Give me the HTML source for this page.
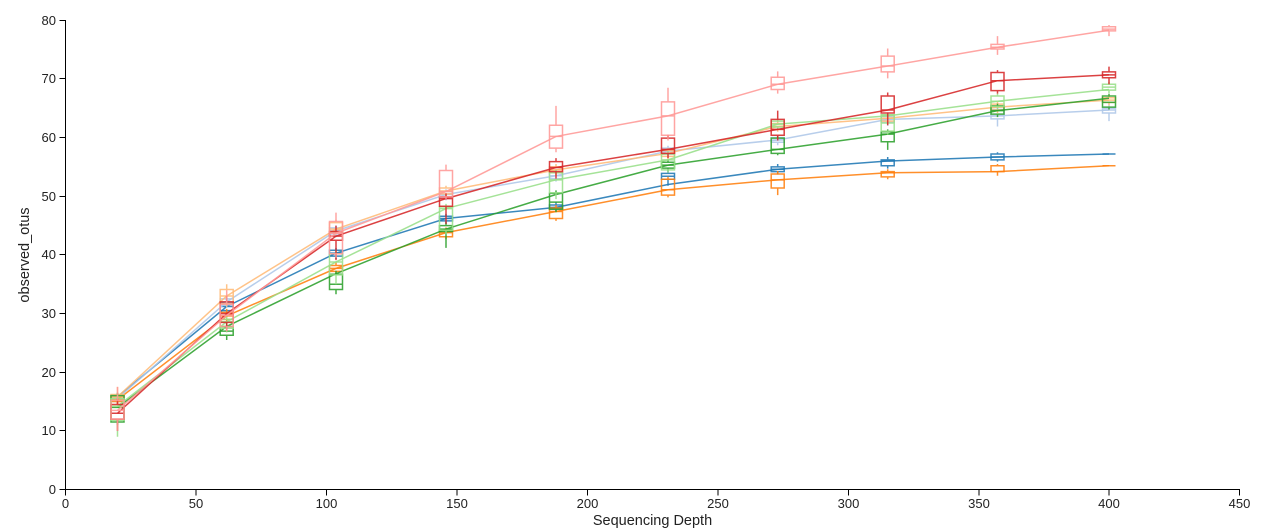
<!DOCTYPE html>
<html>
<head>
<meta charset="utf-8">
<style>
  html,body{margin:0;padding:0;background:#fff;}
  body{width:1280px;height:532px;overflow:hidden;}
  svg{display:block;}
  .s path,.s polyline{vector-effect:non-scaling-stroke;fill:none;stroke-width:1.5;stroke-opacity:0.88;}
  .ax{fill:none;stroke:#000;stroke-width:1;}
  text{font-family:"Liberation Sans","DejaVu Sans",sans-serif;fill:#222;}
  .tk{font-size:13px;}
  .tl{font-size:14.5px;}
</style>
</head>
<body>
<svg width="1280" height="532" viewBox="0 0 1280 532" xmlns="http://www.w3.org/2000/svg">
  <path class="ax" d="M59.5,20.5H65.5V489.5H59.5"/>
  <path class="ax" d="M65.5,495.5V489.5H1239.5V495.5"/>
  <g class="ax">
    <path d="M59.5,430.5H65.5M59.5,372.5H65.5M59.5,313.5H65.5M59.5,254.5H65.5M59.5,196.5H65.5M59.5,137.5H65.5M59.5,78.5H65.5"/>
    <path d="M196,489.5V495.5M326.5,489.5V495.5M457,489.5V495.5M587.5,489.5V495.5M718,489.5V495.5M848.5,489.5V495.5M979,489.5V495.5M1109,489.5V495.5"/>
  </g>
  <g class="tk" text-anchor="end">
    <text x="56" y="494">0</text>
    <text x="56" y="435">10</text>
    <text x="56" y="377">20</text>
    <text x="56" y="318">30</text>
    <text x="56" y="259">40</text>
    <text x="56" y="201">50</text>
    <text x="56" y="142">60</text>
    <text x="56" y="83">70</text>
    <text x="56" y="25">80</text>
  </g>
  <g class="tk" text-anchor="middle">
    <text x="65.5" y="508">0</text>
    <text x="196" y="508">50</text>
    <text x="326.5" y="508">100</text>
    <text x="457" y="508">150</text>
    <text x="587.5" y="508">200</text>
    <text x="718" y="508">250</text>
    <text x="848.5" y="508">300</text>
    <text x="979" y="508">350</text>
    <text x="1109" y="508">400</text>
    <text x="1239.5" y="508">450</text>
  </g>
  <text class="tl" x="652.5" y="525" text-anchor="middle">Sequencing Depth</text>
  <text class="tl" transform="translate(29,255) rotate(-90)" text-anchor="middle">observed_otus</text>

  <g class="s" transform="translate(0,489.5) scale(1,-5.865)">
    <g stroke="#1f77b4">
      <polyline points="117.5,15.8 226.7,31.2 336,40.3 446,46.2 556,48.1 668,52 777.7,54.6 887.7,56 997.5,56.7 1109,57.2"/>
      <path d="M111,15.2h13V16h-13ZM111,15.8h13M117.5,16V16.5M117.5,15.2V14.5
M220.2,30.5h13V31.8h-13ZM220.2,31.2h13M226.7,31.8V32.5M226.7,30.5V30
M329.5,39.8h13V40.8h-13ZM329.5,40.3h13M336,40.8V41.2M336,39.8V39.3
M439.5,45.8h13V46.6h-13ZM439.5,46.2h13M446,46.6V47M446,45.8V45.3
M549.5,47.8h13V48.5h-13ZM549.5,48.1h13M556,48.5V49M556,47.8V47.3
M661.5,52.9h13V53.9h-13ZM661.5,53.4h13M668,53.9V54.3M668,52.9V51.8
M771.2,54.2h13V55h-13ZM771.2,54.6h13M777.7,55V55.5M777.7,54.2V53.7
M881.2,55.2h13V56.2h-13ZM881.2,56h13M887.7,56.2V56.7M887.7,55.2V54.7
M991,56.2h13V57.2h-13ZM991,56.7h13M997.5,57.2V57.5M997.5,56.2V55.9
M1102.5,57.2h13"/>
    </g>
    <g stroke="#aec7e8">
      <polyline points="117.5,15.5 226.7,32 336,44.1 446,50.3 556,53.5 668,57.7 777.7,59.6 887.7,63.1 997.5,63.7 1109,64.7"/>
      <path d="M111,15h13V16h-13ZM111,15.5h13M117.5,16V16.5M117.5,15V14.5
M220.2,31.5h13V32.5h-13ZM220.2,32h13M226.7,32.5V33M226.7,31.5V31
M329.5,43.6h13V44.6h-13ZM329.5,44.1h13M336,44.6V45M336,43.6V43
M439.5,49.8h13V50.8h-13ZM439.5,50.3h13M446,50.8V51.2M446,49.8V49.3
M549.5,53h13V54h-13ZM549.5,53.5h13M556,54V54.5M556,53V52.5
M661.5,57.2h13V58.2h-13ZM661.5,57.7h13M668,58.2V58.6M668,57.2V56.7
M771.2,59.2h13V60h-13ZM771.2,59.6h13M777.7,60V60.5M777.7,59.2V58.7
M881.2,62.6h13V63.6h-13ZM881.2,63.1h13M887.7,63.6V64M887.7,62.6V62
M991,63.2h13V64.8h-13ZM991,63.7h13M997.5,64.8V65.2M997.5,63.2V61.9
M1102.5,64.2h13V65h-13ZM1102.5,64.7h13M1109,65V65.5M1109,64.2V62.8"/>
    </g>
    <g stroke="#ff7f0e">
      <polyline points="117.5,15.3 226.7,29.6 336,37.7 446,43.8 556,47.4 668,51.1 777.7,52.8 887.7,54 997.5,54.2 1109,55.2"/>
      <path d="M111,15h13V15.8h-13ZM111,15.3h13M117.5,15.8V16.2M117.5,15V14.5
M220.2,29h13V30.2h-13ZM220.2,29.6h13M226.7,30.2V30.8M226.7,29V28.5
M329.5,37.2h13V38.2h-13ZM329.5,37.7h13M336,38.2V38.7M336,37.2V36.7
M439.5,43.1h13V44.2h-13ZM439.5,43.8h13M446,44.2V44.7M446,43.1V42.7
M549.5,46.2h13V48h-13ZM549.5,47.4h13M556,48V48.5M556,46.2V45.8
M661.5,50.2h13V52.9h-13ZM661.5,51.1h13M668,52.9V53.3M668,50.2V49.8
M771.2,51.4h13V53.8h-13ZM771.2,52.8h13M777.7,53.8V54.3M777.7,51.4V50.2
M881.2,53.3h13V54.2h-13ZM881.2,54h13M887.7,54.2V54.6M887.7,53.3V52.9
M991,54.2h13V55.2h-13ZM991,54.2h13M997.5,55.2V55.5M997.5,54.2V53.5
M1102.5,55.2h13"/>
    </g>
    <g stroke="#ffbb78">
      <polyline points="117.5,15.8 226.7,33 336,44.4 446,50.9 556,54.5 668,57.3 777.7,61.9 887.7,63.3 997.5,65.2 1109,66.4"/>
      <path d="M111,15.2h13V16.2h-13ZM111,15.8h13M117.5,16.2V17.5M117.5,15.2V14.5
M220.2,31.7h13V34.1h-13ZM220.2,33h13M226.7,34.1V35M226.7,31.7V31.2
M329.5,44h13V45.5h-13ZM329.5,44.4h13M336,45.5V46M336,44V43.5
M439.5,50.4h13V51.4h-13ZM439.5,50.9h13M446,51.4V51.8M446,50.4V50
M549.5,54h13V55h-13ZM549.5,54.5h13M556,55V55.5M556,54V53.5
M661.5,56.8h13V57.8h-13ZM661.5,57.3h13M668,57.8V58.2M668,56.8V56.3
M771.2,61.4h13V62.4h-13ZM771.2,61.9h13M777.7,62.4V62.8M777.7,61.4V61
M881.2,62.8h13V63.8h-13ZM881.2,63.3h13M887.7,63.8V64.2M887.7,62.8V62.3
M991,64.7h13V65.7h-13ZM991,65.2h13M997.5,65.7V66.2M997.5,64.7V64.2
M1102.5,66h13V66.8h-13ZM1102.5,66.4h13M1109,66.8V67.2M1109,66V65.5"/>
    </g>
    <g stroke="#2ca02c">
      <polyline points="117.5,14 226.7,27.8 336,36.8 446,44.4 556,50.3 668,55.3 777.7,58 887.7,60.6 997.5,64.6 1109,66.7"/>
      <path d="M111,11.5h13V16h-13ZM111,14h13M117.5,16V16.5M117.5,11.5V11
M220.2,26.3h13V27.8h-13ZM220.2,27h13M226.7,27.8V28.5M226.7,26.3V25.5
M329.5,34.1h13V36.7h-13ZM329.5,35h13M336,36.7V37.3M336,34.1V33.3
M439.5,44h13V45h-13ZM439.5,44.4h13M446,45V45.5M446,44V41.2
M549.5,47.8h13V50.5h-13ZM549.5,49h13M556,50.5V51M556,47.8V47.3
M661.5,54.8h13V55.8h-13ZM661.5,55.3h13M668,55.8V56.3M668,54.8V54.3
M771.2,57.3h13V59.9h-13ZM771.2,58h13M777.7,59.9V60.3M777.7,57.3V57
M881.2,59.3h13V61h-13ZM881.2,60.6h13M887.7,61V61.4M887.7,59.3V57.9
M991,64h13V65.4h-13ZM991,64.6h13M997.5,65.4V65.8M997.5,64V63.5
M1102.5,65.2h13V67.1h-13ZM1102.5,66h13M1109,67.1V67.5M1109,65.2V64.8"/>
    </g>
    <g stroke="#98df8a">
      <polyline points="117.5,14.2 226.7,28.6 336,38.8 446,47.9 556,52.8 668,56.2 777.7,62.3 887.7,63.7 997.5,66.2 1109,68.2"/>
      <path d="M111,11.8h13V15.5h-13ZM111,14.2h13M117.5,15.5V16M117.5,11.8V9
M220.2,27.5h13V29h-13ZM220.2,28.6h13M226.7,29V29.5M226.7,27.5V26.8
M329.5,36.6h13V40.2h-13ZM329.5,38.8h13M336,40.2V40.7M336,36.6V35
M439.5,44.2h13V48.2h-13ZM439.5,47.9h13M446,48.2V48.7M446,44.2V43.5
M549.5,50.6h13V54h-13ZM549.5,52.8h13M556,54V54.5M556,50.6V49.5
M661.5,54.5h13V57.2h-13ZM661.5,56.2h13M668,57.2V57.7M668,54.5V54
M771.2,61.8h13V62.8h-13ZM771.2,62.3h13M777.7,62.8V63.2M777.7,61.8V61.3
M881.2,61.1h13V63.9h-13ZM881.2,62.5h13M887.7,63.9V64.3M887.7,61.1V60.5
M991,65.3h13V67.1h-13ZM991,66.2h13M997.5,67.1V67.5M997.5,65.3V64.8
M1102.5,68.1h13V69.1h-13ZM1102.5,68.6h13M1109,69.1V69.5M1109,68.1V67.6"/>
    </g>
    <g stroke="#d62728">
      <polyline points="117.5,13 226.7,30 336,43.2 446,49.6 556,54.9 668,58 777.7,61.4 887.7,64.7 997.5,69.7 1109,70.7"/>
      <path d="M111,12h13V14.5h-13ZM111,13h13M117.5,14.5V15.5M117.5,12V10
M220.2,28.5h13V32h-13ZM220.2,30h13M226.7,32V33M226.7,28.5V27
M329.5,42.5h13V44h-13ZM329.5,43.2h13M336,44V45M336,42.5V39.1
M439.5,48.3h13V49.9h-13ZM439.5,49.6h13M446,49.9V50.5M446,48.3V45.3
M549.5,54.2h13V55.9h-13ZM549.5,54.9h13M556,55.9V56.5M556,54.2V53
M661.5,57.3h13V59.9h-13ZM661.5,58h13M668,59.9V60.5M668,57.3V56.5
M771.2,60.4h13V63.1h-13ZM771.2,61.4h13M777.7,63.1V64.6M777.7,60.4V59.5
M881.2,64.2h13V67.1h-13ZM881.2,64.7h13M887.7,67.1V67.7M887.7,64.2V62.1
M991,68h13V71.1h-13ZM991,69.7h13M997.5,71.1V71.5M997.5,68V67.5
M1102.5,70.2h13V71.2h-13ZM1102.5,70.7h13M1109,71.2V72.1M1109,70.2V69.1"/>
    </g>
    <g stroke="#ff9896">
      <polyline points="117.5,13.5 226.7,29.7 336,43.7 446,50.8 556,60.2 668,63.7 777.7,69.1 887.7,72.2 997.5,75.4 1109,78.3"/>
      <path d="M111,12h13V15.2h-13ZM111,13.5h13M117.5,15.2V17.5M117.5,12V10
M220.2,27.8h13V31.6h-13ZM220.2,29.7h13M226.7,31.6V34M226.7,27.8V27
M329.5,40.2h13V45.7h-13ZM329.5,43.7h13M336,45.7V47.2M336,40.2V39.5
M439.5,49.9h13V54.4h-13ZM439.5,50.8h13M446,54.4V55.4M446,49.9V49.5
M549.5,58.2h13V62.1h-13ZM549.5,60.2h13M556,62.1V65.4M556,58.2V57.5
M661.5,60.4h13V66.1h-13ZM661.5,63.7h13M668,66.1V68.5M668,60.4V59.5
M771.2,68.2h13V70.3h-13ZM771.2,69.1h13M777.7,70.3V71.3M777.7,68.2V67.5
M881.2,71.2h13V73.9h-13ZM881.2,72.2h13M887.7,73.9V75.2M887.7,71.2V70.1
M991,75.1h13V75.9h-13ZM991,75.4h13M997.5,75.9V77.3M997.5,75.1V74.1
M1102.5,78.2h13V78.9h-13ZM1102.5,78.5h13M1109,78.9V79.2M1109,78.2V77.3"/>
    </g>
  </g>
</svg>
</body>
</html>
